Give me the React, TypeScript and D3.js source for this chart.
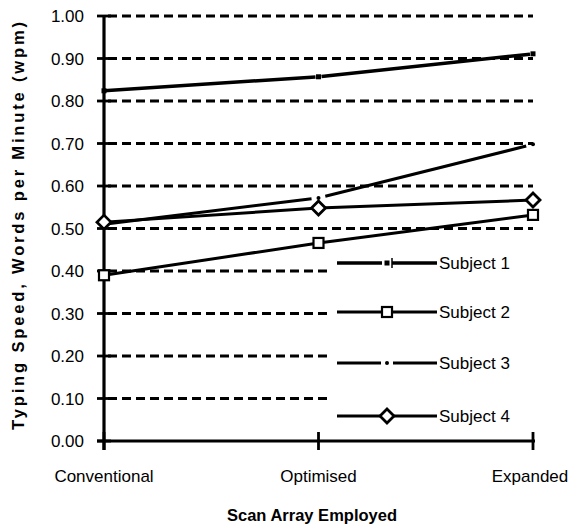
import React from 'react';
import * as d3 from 'd3';

// Scan arrays on the x axis
const categories = ['Conventional', 'Optimised', 'Expanded'];

// Typing speed (wpm) per subject
const subject1 = [0.824, 0.857, 0.911];
const subject2 = [0.39, 0.466, 0.532];
const subject3 = [0.51, 0.572, 0.698];
const subject4 = [0.515, 0.548, 0.567];

const seriesNames = ['Subject 1', 'Subject 2', 'Subject 3', 'Subject 4'];
const yTicks = [0, 0.1, 0.2, 0.3, 0.4, 0.5, 0.6, 0.7, 0.8, 0.9, 1.0];

const W = 574;
const H = 524;
const FONT = '"Liberation Sans", Arial, Helvetica, sans-serif';

const x = d3.scalePoint<string>().domain(categories).range([104, 533]);
const y = d3.scaleLinear().domain([0, 1]).range([441, 16]);
const fmt = d3.format('.2f');

type Marker = 'dot1' | 'square' | 'dot3' | 'diamond';

const drawMarker = (kind: Marker, cx: number, cy: number, key: string) => {
  if (kind === 'square') {
    return <rect key={key} x={cx - 5} y={cy - 5} width={10} height={10} fill="#fff" stroke="#000" strokeWidth={2.2} />;
  }
  if (kind === 'diamond') {
    const r = 7;
    return (
      <path key={key} d={`M${cx},${cy - r}L${cx + r},${cy}L${cx},${cy + r}L${cx - r},${cy}Z`}
        fill="#fff" stroke="#000" strokeWidth={2.8} />
    );
  }
  if (kind === 'dot1') {
    return <rect key={key} x={cx - 2.5} y={cy - 2.5} width={5} height={5} fill="#000" />;
  }
  return <circle key={key} cx={cx} cy={cy} r={2} fill="#000" />;
};

// line segments, optionally broken around each point
const segments = (vals: number[], gap: number) => {
  const out: [number, number, number, number][] = [];
  for (let i = 0; i < vals.length - 1; i++) {
    const x1 = x(categories[i])!, y1 = y(vals[i]);
    const x2 = x(categories[i + 1])!, y2 = y(vals[i + 1]);
    const len = Math.hypot(x2 - x1, y2 - y1);
    const ux = (x2 - x1) / len, uy = (y2 - y1) / len;
    const g0 = i === 0 && gap > 0 ? 0 : gap;
    out.push([x1 + ux * g0, y1 + uy * g0, x2 - ux * gap, y2 - uy * gap]);
  }
  return out;
};

const series: { vals: number[]; marker: Marker; width: number; gap: number }[] = [
  { vals: subject1, marker: 'dot1', width: 3.5, gap: 3 },
  { vals: subject2, marker: 'square', width: 3, gap: 0 },
  { vals: subject3, marker: 'dot3', width: 3, gap: 7 },
  { vals: subject4, marker: 'diamond', width: 3, gap: 0 },
];

const App = () => {
  const legendY = [263, 312, 363, 416];
  const lx0 = 337, lx1 = 437, lmid = 387;

  return (
    <svg width={W} height={H} style={{ position: 'absolute', left: 0, top: 0, background: '#fff' }}>
      {/* gridlines */}
      {yTicks.filter(t => t > 0).map(t => (
        <line key={'g' + t} x1={x(categories[0])! + 4} x2={533} y1={y(t)} y2={y(t)}
          stroke="#000" strokeWidth={2.8} strokeDasharray="9,5" />
      ))}

      {/* legend background hides the lower gridlines */}
      <rect x={330} y={246} width={205} height={186} fill="#fff" />

      {/* y axis */}
      <line x1={104} x2={104} y1={y(1)} y2={450} stroke="#000" strokeWidth={3.2} />
      {yTicks.map(t => (
        <g key={'t' + t}>
          <line x1={97} x2={111} y1={y(t)} y2={y(t)} stroke="#000" strokeWidth={2.8} />
          <text x={84} y={y(t)} dy="0.36em" textAnchor="end" fontFamily={FONT} fontSize={17}>{fmt(t)}</text>
        </g>
      ))}

      {/* x axis */}
      <line x1={97} x2={535} y1={y(0)} y2={y(0)} stroke="#000" strokeWidth={3.2} />
      {categories.map(c => (
        <g key={c}>
          <line x1={x(c)} x2={x(c)} y1={432} y2={450} stroke="#000" strokeWidth={2.8} />
          <text x={Math.min(x(c)!, 530)} y={482} textAnchor="middle" fontFamily={FONT} fontSize={17}>{c}</text>
        </g>
      ))}

      {/* axis titles */}
      <text x={312} y={521} textAnchor="middle" fontFamily={FONT} fontSize={16.5} fontWeight="bold">Scan Array Employed</text>
      <text transform="translate(24,226) rotate(-90)" textAnchor="middle" fontFamily={FONT} fontSize={16.5}
        fontWeight="bold" textLength={408} lengthAdjust="spacing">Typing Speed, Words per Minute (wpm)</text>

      {/* data lines */}
      {series.map((s, si) => segments(s.vals, s.gap).map((seg, i) => (
        <line key={`l${si}-${i}`} x1={seg[0]} y1={seg[1]} x2={seg[2]} y2={seg[3]}
          stroke="#000" strokeWidth={s.width} />
      )))}
      {series.map((s, si) => s.vals.map((v, i) => drawMarker(s.marker, x(categories[i])!, y(v), `m${si}-${i}`)))}

      {/* legend */}
      {seriesNames.map((name, i) => {
        const ly = legendY[i];
        const s = series[i];
        return (
          <g key={name}>
            {i === 0 && (
              <>
                <line x1={lx0} x2={lmid - 5} y1={ly} y2={ly} stroke="#000" strokeWidth={3.5} />
                <line x1={lmid + 5} x2={lx1} y1={ly} y2={ly} stroke="#000" strokeWidth={3.5} />
                <line x1={lmid + 5} x2={lmid + 5} y1={ly - 5} y2={ly + 5} stroke="#000" strokeWidth={1.5} />
              </>
            )}
            {i === 2 && (
              <>
                <line x1={lx0} x2={lmid - 6} y1={ly} y2={ly} stroke="#000" strokeWidth={3} />
                <line x1={lmid + 6} x2={lx1} y1={ly} y2={ly} stroke="#000" strokeWidth={3} />
              </>
            )}
            {(i === 1 || i === 3) && (
              <line x1={lx0} x2={lx1} y1={ly} y2={ly} stroke="#000" strokeWidth={3} />
            )}
            {drawMarker(s.marker, lmid, ly, 'lm' + i)}
            <text x={439} y={ly} dy="0.36em" fontFamily={FONT} fontSize={17}>{name}</text>
          </g>
        );
      })}
    </svg>
  );
};

export default App;
